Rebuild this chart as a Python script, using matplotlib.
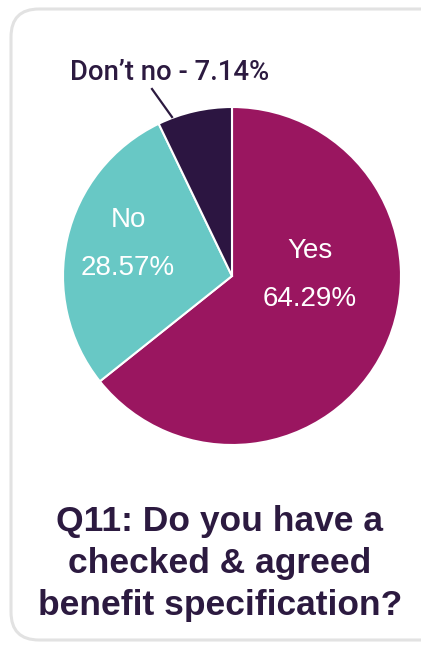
import matplotlib
matplotlib.use("Agg")
import matplotlib.pyplot as plt
from matplotlib.patches import FancyBboxPatch

categories = ["Yes", "No", "Don\u2019t no"]
shares = [64.29, 28.57, 7.14]
colors = ["#9A1660", "#68C8C5", "#2C1541"]
title_lines = ["Q11: Do you have a", "checked & agreed", "benefit specification?"]

W, H = 421, 650
plt.rcParams["font.family"] = ["Liberation Sans", "DejaVu Sans"]

fig = plt.figure(figsize=(W / 100, H / 100), dpi=100)
ax = fig.add_axes([0, 0, 1, 1])

def py(y):
    # convert a top-down pixel row into axis units
    return H - y

# rounded card outline
card = FancyBboxPatch((11, py(640)), 440, 631,
                      boxstyle="round,pad=0,rounding_size=28",
                      facecolor="white", edgecolor="#E2E2E2", linewidth=2.2,
                      zorder=0)
ax.add_patch(card)

cx, cy, r = 232, py(276), 169
ax.pie(shares, colors=colors, startangle=90, counterclock=False,
       center=(cx, cy), radius=r, frame=True,
       wedgeprops=dict(edgecolor="white", linewidth=1.5))
ax.set_xlim(0, W)
ax.set_ylim(0, H)
ax.set_aspect("equal")
ax.axis("off")

lab_kw = dict(color="white", fontsize=20, ha="center", va="center")
ax.text(310, py(251), categories[0], **lab_kw)
ax.text(310, py(299), f"{shares[0]:.2f}%", **lab_kw)
ax.text(128, py(220), categories[1], **lab_kw)
ax.text(128, py(268), f"{shares[1]:.2f}%", **lab_kw)

ax.text(170, py(73), f"{categories[2]} - {shares[2]:.2f}%", color="#2C1A40",
        fontsize=19.8, fontfamily=["Roboto", "DejaVu Sans"], fontweight="medium",
        ha="center", va="center")
ax.plot([152, 172], [py(89), py(117)], color="#2C1A40", linewidth=1.6)

for i, line in enumerate(title_lines):
    ax.text(220, py(522 + 42 * i), line, color="#2C1A40", fontsize=25.5,
            fontweight="bold", ha="center", va="center")

fig.savefig("out.png", dpi=100)
